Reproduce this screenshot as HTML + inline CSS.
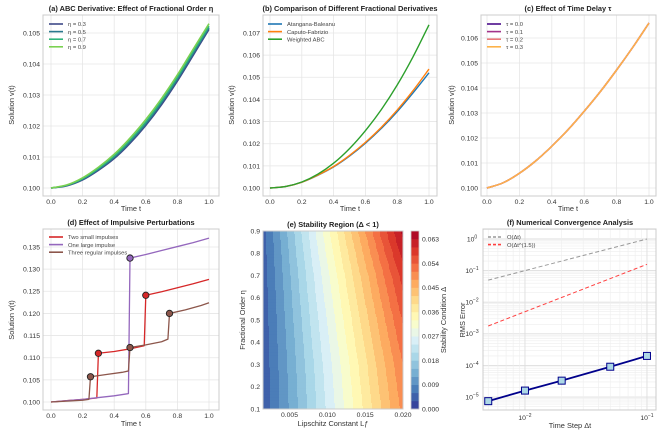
<!DOCTYPE html>
<html><head><meta charset="utf-8">
<style>
html,body{margin:0;padding:0;background:#fff;}
svg{display:block;font-family:"Liberation Sans",sans-serif;}
</style></head>
<body>
<svg id="fig" width="668" height="436" viewBox="0 0 668 436" xmlns="http://www.w3.org/2000/svg"></svg>
<script>
// ---------- data ----------
const tGrid = [0,0.1,0.2,0.3,0.4,0.5,0.6,0.7,0.8,0.9,1.0];
// (a)
const etaLabels = ["η = 0.3","η = 0.5","η = 0.7","η = 0.9"];
const etaColors = ["#3e4a89","#2a788e","#2fb47c","#7ad151"];
const etaVals = [
 [0.1,0.10007,0.10026,0.10057,0.10095,0.10144,0.10202,0.10269,0.10345,0.10428,0.10512],
 [0.1,0.10008,0.10028,0.10060,0.10099,0.10149,0.10207,0.10275,0.10351,0.10434,0.10517],
 [0.1,0.10009,0.10030,0.10063,0.10103,0.10154,0.10213,0.10281,0.10357,0.10440,0.10522],
 [0.1,0.10010,0.10033,0.10067,0.10109,0.10161,0.10221,0.10289,0.10365,0.10448,0.10530]];
// (b)
const derivLabels = ["Atangana-Baleanu","Caputo-Fabrizio","Weighted ABC"];
const derivColors = ["#1f77b4","#ff7f0e","#2ca02c"];
const derivVals = [
 [0.1,0.10007,0.10026,0.10057,0.10095,0.10144,0.10202,0.10269,0.10345,0.10430,0.10520],
 [0.1,0.10007,0.10026,0.10058,0.10097,0.10147,0.10206,0.10274,0.10352,0.10440,0.10537],
 [0.1,0.10007,0.10027,0.10062,0.10112,0.10178,0.10259,0.10354,0.10465,0.10593,0.10737]];
// (c)
const tauLabels = ["τ = 0.0","τ = 0.1","τ = 0.2","τ = 0.3"];
const tauColors = ["#4b0c8b","#a2328a","#e9787a","#fdb24a"];
const tauBase = [0.1,0.10021,0.10059,0.10108,0.10167,0.10233,0.10307,0.10386,0.10472,0.10563,0.10660];
// (d)
const impLabels = ["Two small impulses","One large impulse","Three regular impulses"];
const impColors = ["#d62728","#9467bd","#8c564b"];
const impT = [
 [0,0.1,0.2,0.29,0.3,0.4,0.5,0.59,0.6,0.7,0.8,0.9,1.0],
 [0,0.1,0.2,0.3,0.4,0.49,0.5,0.6,0.7,0.8,0.9,1.0],
 [0,0.1,0.2,0.24,0.25,0.35,0.45,0.49,0.5,0.6,0.7,0.74,0.75,0.85,0.95,1.0]];
const impV = [
 [0.1,0.1003,0.1006,0.1009,0.1110,0.1114,0.1120,0.1127,0.1241,0.1249,0.1258,0.1267,0.1277],
 [0.1,0.1003,0.1006,0.1010,0.1014,0.1019,0.1325,0.1333,0.1342,0.1351,0.1360,0.1370],
 [0.1,0.1002,0.1004,0.1006,0.1057,0.1062,0.1067,0.1070,0.1123,0.1129,0.1136,0.1142,0.1200,0.1208,0.1218,0.1224]];
const impMarkT = [[0.3,0.6],[0.5],[0.25,0.5,0.75]];
const impMarkV = [[0.1110,0.1241],[0.1325],[0.1057,0.1123,0.1200]];
// (e)
const lipRange = [0.0015,0.020];
const etaRange = [0.1,0.9];
const etaNodes = [0.1,0.3,0.5,0.7,0.9];
const gainNodes = [2.45,2.55,2.72,2.92,3.2];
const levelStep = 0.003, nLevels = 22;
const cbTicks = [0.000,0.009,0.018,0.027,0.036,0.045,0.054,0.063];
// (f)
const dtVals = [0.005,0.01,0.02,0.05,0.1];
const rmsVals = [7.4e-6,1.6e-5,3.3e-5,9.1e-5,2.0e-4];
const ref1Vals = [0.05,1.0];
const ref15Vals = [1.77e-3,0.158];
const refDt = [0.005,0.1];

// ---------- helpers ----------
const NS="http://www.w3.org/2000/svg", svg=document.getElementById('fig');
function el(tag,attrs,parent,text){const e=document.createElementNS(NS,tag);for(const k in attrs)e.setAttribute(k,attrs[k]);if(text!==undefined)e.textContent=text;(parent||svg).appendChild(e);return e;}
const lin=(d0,d1,p0,p1)=>v=>p0+(v-d0)/(d1-d0)*(p1-p0);
const TXT="#333", GRID="#e6e6e6";

function frame(name){const g=el('g',{});   return g;}
function box(g,x0,x1,y0,y1){const r=el('rect',{x:x0,y:y0,width:x1-x0,height:y1-y0,fill:'none',stroke:'#cccccc','stroke-width':1},g);}
function title(g,x,y,s){const t=el('text',{x:x,y:y,'font-size':7.4,'font-weight':'bold',fill:'#222','text-anchor':'middle'},g,s);}
function xlabel(g,x,y,s){const t=el('text',{x:x,y:y,'font-size':7.4,fill:TXT,'text-anchor':'middle'},g,s);}
function ylabel(g,x,y,s){const t=el('text',{x:x,y:y,'font-size':7.4,fill:TXT,'text-anchor':'middle',transform:`rotate(-90 ${x} ${y})`},g,s);}
function linePanel(name,B,xs,ys,xt,yt,ydec){
 const g=frame(name);
 el('rect',{x:B[0],y:B[2],width:B[1]-B[0],height:B[3]-B[2],fill:'#fff'},g);
 xt.forEach(v=>{const x=xs(v);el('line',{x1:x,x2:x,y1:B[2],y2:B[3],stroke:GRID,'stroke-width':0.8},g);
   const t=el('text',{x:x,y:B[3]+8,'font-size':6.8,fill:TXT,'text-anchor':'middle'},g,v.toFixed(1));});
 yt.forEach(v=>{const y=ys(v);el('line',{x1:B[0],x2:B[1],y1:y,y2:y,stroke:GRID,'stroke-width':0.8},g);
   const t=el('text',{x:B[0]-3,y:y+2.4,'font-size':6.8,fill:TXT,'text-anchor':'end'},g,v.toFixed(ydec));});
 box(g,B[0],B[1],B[2],B[3]);
 return g;}
function path(g,xsArr,ysArr,xs,ys,color,w,name,dash){
 const d=xsArr.map((v,i)=>(i?'L':'M')+xs(v).toFixed(2)+','+ys(ysArr[i]).toFixed(2)).join('');
 const p=el('path',{d:d,fill:'none',stroke:color,'stroke-width':w,'stroke-linejoin':'round'},g);
 if(dash)p.setAttribute('stroke-dasharray',dash);
 return p;}
function smooth(g,xsArr,ysArr,xs,ys,color,w,name){
 const P=xsArr.map((v,i)=>[xs(v),ys(ysArr[i])]);
 let d='M'+P[0][0].toFixed(2)+','+P[0][1].toFixed(2);
 for(let i=0;i<P.length-1;i++){const p0=P[Math.max(0,i-1)],p1=P[i],p2=P[i+1],p3=P[Math.min(P.length-1,i+2)];
  const c1=[p1[0]+(p2[0]-p0[0])/6,p1[1]+(p2[1]-p0[1])/6],c2=[p2[0]-(p3[0]-p1[0])/6,p2[1]-(p3[1]-p1[1])/6];
  d+='C'+c1.map(v=>v.toFixed(2))+' '+c2.map(v=>v.toFixed(2))+' '+p2.map(v=>v.toFixed(2));}
 const p=el('path',{d:d,fill:'none',stroke:color,'stroke-width':w},g);
 return p;}
function legend(g,x,y,labels,colors,dy,dash){
 labels.forEach((s,i)=>{const yy=y+i*dy;
  const lg=el('g',{},g);
  const l=el('line',{x1:x,x2:x+14,y1:yy,y2:yy,stroke:colors[i],'stroke-width':1.6},lg);
  if(dash)l.setAttribute('stroke-dasharray',dash);
  el('text',{x:x+19,y:yy+2.2,'font-size':5.8,fill:'#444'},lg,s);});}
const tk=[0,0.2,0.4,0.6,0.8,1.0];

// ---------- (a) ----------
{const B=[43,219,15,196],xs=lin(0,1,51,209),ys=lin(0.1,0.105,188,33);
 const g=linePanel('panel-a-fractional-order',B,xs,ys,tk,[0.100,0.101,0.102,0.103,0.104,0.105],3);
 etaVals.forEach((s,i)=>smooth(g,tGrid,s,xs,ys,etaColors[i],1.6,'line-'+etaLabels[i].replace(/[^0-9]/g,'')));
 legend(g,49,24,etaLabels,etaColors,7.6);
 title(g,131,11,'(a) ABC Derivative: Effect of Fractional Order η');xlabel(g,131,211,'Time t');ylabel(g,14,105,'Solution v(t)');}
// ---------- (b) ----------
{const B=[263,437,15,196],xs=lin(0,1,270,429),ys=lin(0.1,0.107,188,33);
 const g=linePanel('panel-b-derivative-comparison',B,xs,ys,tk,[0.100,0.101,0.102,0.103,0.104,0.105,0.106,0.107],3);
 derivVals.forEach((s,i)=>smooth(g,tGrid,s,xs,ys,derivColors[i],1.4,'line-'+derivLabels[i].toLowerCase().replace(/ /g,'-')));
 legend(g,268,24,derivLabels,derivColors,7.6);
 title(g,350,11,'(b) Comparison of Different Fractional Derivatives');xlabel(g,350,211,'Time t');ylabel(g,234,105,'Solution v(t)');}
// ---------- (c) ----------
{const B=[481,656,15,196],xs=lin(0,1,487,649),ys=lin(0.1,0.106,188,38);
 const g=linePanel('panel-c-time-delay',B,xs,ys,tk,[0.100,0.101,0.102,0.103,0.104,0.105,0.106],3);
 tauColors.forEach((c,i)=>smooth(g,tGrid,tauBase,xs,ys,c,1.5,'line-tau-'+i));
 legend(g,487,24,tauLabels,tauColors,7.6);
 title(g,568,11,'(c) Effect of Time Delay τ');xlabel(g,568,211,'Time t');ylabel(g,454,105,'Solution v(t)');}
// ---------- (d) ----------
{const B=[43,219,229,410],xs=lin(0,1,51,209),ys=lin(0.1,0.135,402,247);
 const g=linePanel('panel-d-impulsive',B,xs,ys,tk,[0.100,0.105,0.110,0.115,0.120,0.125,0.130,0.135],3);
 impV.forEach((s,i)=>path(g,impT[i],s,xs,ys,impColors[i],1.3,'line-impulse-'+i));
 impMarkT.forEach((arr,i)=>arr.forEach((t,j)=>{const c=el('circle',{cx:xs(t),cy:ys(impMarkV[i][j]),r:3.2,fill:impColors[i],stroke:'#222','stroke-width':0.9},g);}));
 legend(g,49,237,impLabels,impColors,7.6);
 title(g,131,225,'(d) Effect of Impulsive Perturbations');xlabel(g,131,426,'Time t');ylabel(g,14,320,'Solution v(t)');}
// ---------- (e) ----------
const cmapStops=["#313695","#4575b4","#74add1","#abd9e9","#e0f3f8","#ffffbf","#fee090","#fdae61","#f46d43","#d73027","#a50026"];
function cmap(f){f=Math.max(0,Math.min(1,f));const p=f*10,i=Math.min(9,Math.floor(p)),r=p-i;
 const a=cmapStops[i],b=cmapStops[i+1];const h=(s,k)=>parseInt(s.substr(1+2*k,2),16);
 return 'rgb('+[0,1,2].map(k=>Math.round(h(a,k)+(h(b,k)-h(a,k))*r)).join(',')+')';}
function gain(eta){for(let i=0;i<etaNodes.length-1;i++){if(eta<=etaNodes[i+1]){const r=(eta-etaNodes[i])/(etaNodes[i+1]-etaNodes[i]);return gainNodes[i]+r*(gainNodes[i+1]-gainNodes[i]);}}return gainNodes[gainNodes.length-1];}
{const B=[263,403,231,409],xs=lin(lipRange[0],lipRange[1],263,403),ys=lin(etaRange[0],etaRange[1],409,231);
 const g=frame('panel-e-stability-region');
 const nx=140,ny=60,cw=(B[1]-B[0])/nx,ch=(B[3]-B[2])/ny;
 for(let j=0;j<ny;j++)for(let i=0;i<nx;i++){
  const L=lipRange[0]+(i+0.5)/nx*(lipRange[1]-lipRange[0]);
  const eta=etaRange[1]-(j+0.5)/ny*(etaRange[1]-etaRange[0]);
  const d=L*gain(eta);const lv=Math.min(nLevels-1,Math.floor(d/levelStep));
  el('rect',{x:(B[0]+i*cw).toFixed(2),y:(B[2]+j*ch).toFixed(2),width:(cw+0.4).toFixed(2),height:(ch+0.4).toFixed(2),fill:cmap((lv+0.5)/nLevels)},g);}
 box(g,B[0],B[1],B[2],B[3]);
 [0.005,0.010,0.015,0.020].forEach(v=>{const t=el('text',{x:xs(v),y:B[3]+8,'font-size':6.8,fill:TXT,'text-anchor':'middle'},g,v.toFixed(3));});
 [0.1,0.2,0.3,0.4,0.5,0.6,0.7,0.8,0.9].forEach(v=>{const t=el('text',{x:B[0]-3,y:ys(v)+2.4,'font-size':6.8,fill:TXT,'text-anchor':'end'},g,v.toFixed(1));});
 const cb=el('g',{},g);
 const cs=lin(0,nLevels*levelStep,409,231);
 for(let k=0;k<nLevels;k++)el('rect',{x:411,y:cs((k+1)*levelStep),width:8,height:cs(k*levelStep)-cs((k+1)*levelStep)+0.3,fill:cmap((k+0.5)/nLevels)},cb);
 el('rect',{x:411,y:231,width:8,height:178,fill:'none',stroke:'#ccc','stroke-width':0.8},cb);
 cbTicks.forEach(v=>{const t=el('text',{x:422,y:cs(v)+2.4,'font-size':6.8,fill:TXT},cb,v.toFixed(3));});
 ylabel(cb,446,320,'Stability Condition Δ');
 title(g,333,227,'(e) Stability Region (Δ < 1)');xlabel(g,333,426,'Lipschitz Constant Lƒ');ylabel(g,245,320,'Fractional Order η');}
// ---------- (f) ----------
{const B=[483,656,229,410];
 const xl=lin(-2.344,-0.926,483,656),yl=lin(0.316,-5.41,229,410);
 const xs=v=>xl(Math.log10(v)),ys=v=>yl(Math.log10(v));
 const g=frame('panel-f-convergence');
 for(let e=-6;e<=0;e++)for(let m=1;m<10;m++){const v=m*Math.pow(10,e),y=ys(v);if(y>B[2]&&y<B[3])el('line',{x1:B[0],x2:B[1],y1:y,y2:y,stroke:m==1?'#dedede':'#eeeeee','stroke-width':m==1?0.9:0.6},g);}
 for(let e=-3;e<=-1;e++)for(let m=1;m<10;m++){const v=m*Math.pow(10,e),x=xs(v);if(x>B[0]&&x<B[1])el('line',{x1:x,x2:x,y1:B[2],y2:B[3],stroke:m==1?'#dedede':'#eeeeee','stroke-width':m==1?0.9:0.6},g);}
 box(g,B[0],B[1],B[2],B[3]);
 [-2,-1].forEach(e=>{const t=el('text',{x:xs(Math.pow(10,e)),y:B[3]+10,'font-size':6.8,fill:TXT,'text-anchor':'middle'},g);
  el('tspan',{},t,'10');el('tspan',{dy:-3,'font-size':5},t,'−'+(-e));});
 [0,-1,-2,-3,-4,-5].forEach(e=>{const t=el('text',{x:B[0]-11,y:ys(Math.pow(10,e))+2.4,'font-size':6.8,fill:TXT,'text-anchor':'middle'},g);
  el('tspan',{},t,'10');el('tspan',{dy:-3,'font-size':5},t,e==0?'0':'−'+(-e));});
 path(g,refDt,ref1Vals,xs,ys,'#999',1,'reference-line-order-1','4,2.5');
 path(g,refDt,ref15Vals,xs,ys,'#ff4040',1,'reference-line-order-1-5','4,2.5');
 path(g,dtVals,rmsVals,xs,ys,'#00008b',1.8,'rms-error-line');
 dtVals.forEach((v,i)=>{const r=el('rect',{x:xs(v)-3.5,y:ys(rmsVals[i])-3.5,width:7,height:7,fill:'#add8e6',stroke:'#00008b','stroke-width':1},g);});
 legend(g,488,237,['O(Δt)','O(Δt^(1.5))'],['#999','#ff4040'],7.6,'3,2');
 title(g,570,225,'(f) Numerical Convergence Analysis');xlabel(g,570,428,'Time Step Δt');ylabel(g,465,320,'RMS Error');}
</script>
</body></html>
